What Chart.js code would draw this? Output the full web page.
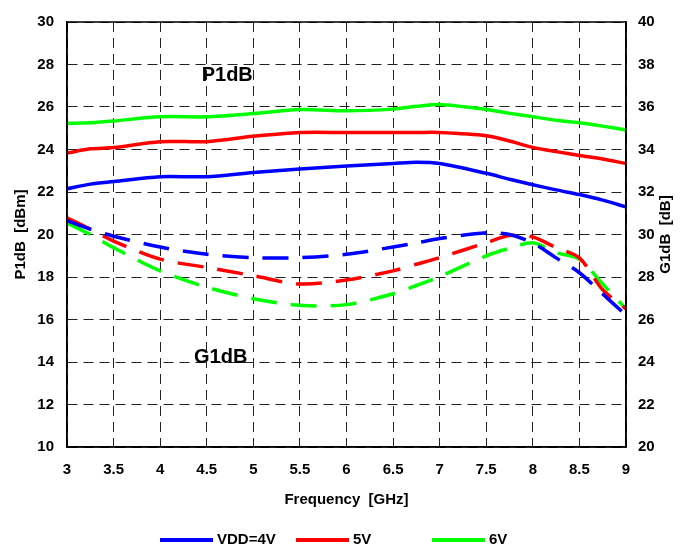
<!DOCTYPE html>
<html>
<head>
<meta charset="utf-8">
<script src="https://cdn.jsdelivr.net/npm/chart.js@4.4.1/dist/chart.umd.min.js"></script>
<style>
  body { margin: 0; background: #fff; }
  #myChart { display: block; }
</style>
</head>
<body>
<canvas id="myChart" width="681" height="547"></canvas>
<script>
// frequency points [GHz]
const freqs = [3, 3.25, 3.5, 4, 4.5, 5, 5.5, 6, 6.5, 6.75, 7, 7.5, 7.75, 8, 8.25, 8.5, 8.75, 9];

// P1dB [dBm] (left axis)
const p1dB_4V = [22.15, 22.37, 22.49, 22.72, 22.72, 22.92, 23.08, 23.22, 23.34, 23.4, 23.34, 22.88, 22.6, 22.34, 22.1, 21.88, 21.62, 21.3];
const p1dB_5V = [23.83, 24.03, 24.09, 24.37, 24.37, 24.62, 24.8, 24.8, 24.8, 24.8, 24.8, 24.65, 24.4, 24.1, 23.9, 23.72, 23.55, 23.34];
const p1dB_6V = [25.23, 25.26, 25.34, 25.54, 25.54, 25.69, 25.88, 25.82, 25.9, 26.03, 26.12, 25.88, 25.7, 25.54, 25.38, 25.26, 25.1, 24.92];

// G1dB [dB] (right axis)
const g1dB_4V = [30.65, 30.25, 29.92, 29.41, 29.07, 28.91, 28.91, 29.07, 29.41, 29.6, 29.81, 30.08, 30.0, 29.6, 28.9, 28.2, 27.2, 26.2];
const g1dB_5V = [30.78, 30.25, 29.69, 28.84, 28.45, 28.06, 27.67, 27.86, 28.29, 28.6, 28.91, 29.61, 29.95, 29.88, 29.38, 28.9, 27.4, 26.5];
const g1dB_6V = [30.54, 30.0, 29.38, 28.29, 27.52, 26.98, 26.67, 26.7, 27.21, 27.6, 28.02, 28.99, 29.35, 29.61, 29.15, 28.84, 27.67, 26.5];

const legendLabels = ['VDD=4V', '5V', '6V'];
const colors = ['#0000ff', '#ff0000', '#00ff00'];

const FONT = 'Liberation Sans, Arial, sans-serif';

function pts(vals) {
  return freqs.map((f, i) => ({x: f, y: vals[i]}));
}

function solid(vals, c) {
  return { data: pts(vals), borderColor: c, borderWidth: 3.5, pointRadius: 0, tension: 0.3, yAxisID: 'y', fill: false };
}
function dashed(vals, c) {
  return { data: pts(vals), borderColor: c, borderWidth: 3.5, pointRadius: 0, tension: 0.3, yAxisID: 'y2', fill: false, borderDash: [26, 14] };
}

// frame, annotations, right title, legend
const extras = {
  id: 'extras',
  afterDraw(chart) {
    const {ctx, chartArea: {left, top, right, bottom}, scales} = chart;
    ctx.save();
    ctx.strokeStyle = '#000';
    ctx.lineWidth = 1.5;
    ctx.strokeRect(left, top, right - left, bottom - top);

    ctx.fillStyle = '#000';
    ctx.font = 'bold 20px ' + FONT;
    ctx.textAlign = 'center';
    ctx.textBaseline = 'middle';
    ctx.fillText('P1dB', scales.x.getPixelForValue(4.72), scales.y.getPixelForValue(27.5));
    ctx.fillText('G1dB', scales.x.getPixelForValue(4.65), scales.y.getPixelForValue(14.2));

    // right axis title, reading bottom to top
    ctx.font = 'bold 15px ' + FONT;
    ctx.translate(666, (top + bottom) / 2);
    ctx.rotate(-Math.PI / 2);
    ctx.fillText('G1dB  [dB]', 0, 0);
    ctx.restore();

    // legend
    ctx.save();
    const lx = [160, 296, 432];
    const ly = 540;
    ctx.font = 'bold 15px ' + FONT;
    ctx.textBaseline = 'middle';
    ctx.lineWidth = 4;
    for (let i = 0; i < 3; i++) {
      ctx.strokeStyle = colors[i];
      ctx.beginPath();
      ctx.moveTo(lx[i], ly);
      ctx.lineTo(lx[i] + 53, ly);
      ctx.stroke();
      ctx.fillStyle = '#000';
      ctx.fillText(legendLabels[i], lx[i] + 57, ly);
    }
    ctx.restore();
  }
};

const ctx = document.getElementById('myChart');
new Chart(ctx, {
  type: 'line',
  data: {
    datasets: [
      solid(p1dB_4V, colors[0]), solid(p1dB_5V, colors[1]), solid(p1dB_6V, colors[2]),
      dashed(g1dB_4V, colors[0]), dashed(g1dB_5V, colors[1]), dashed(g1dB_6V, colors[2])
    ]
  },
  options: {
    responsive: false,
    animation: false,
    devicePixelRatio: 1,
    layout: { padding: { top: 3, bottom: 38, left: 0, right: 0 } },
    scales: {
      x: {
        type: 'linear',
        min: 3, max: 9,
        afterFit(scale) { scale.height = 62; },
        grid: { color: '#222', lineWidth: 1, drawTicks: false },
        border: { display: true, color: '#000', width: 1.5, dash: [10, 6] },
        ticks: { stepSize: 0.5, padding: 14, color: '#000', callback: v => String(v), font: { family: FONT, size: 15, weight: 'bold' } },
        title: { display: true, text: 'Frequency  [GHz]', color: '#000', padding: { top: 6, bottom: 0 }, font: { family: FONT, size: 15, weight: 'bold' } }
      },
      y: {
        position: 'left',
        min: 10, max: 30,
        afterFit(scale) { scale.width = 67; },
        grid: { color: '#222', lineWidth: 1, drawTicks: false },
        border: { display: true, color: '#000', width: 1.5, dash: [10, 6] },
        ticks: { stepSize: 2, padding: 13, color: '#000', font: { family: FONT, size: 15, weight: 'bold' } },
        title: { display: true, text: 'P1dB  [dBm]', color: '#000', padding: { top: 12, bottom: 0 }, font: { family: FONT, size: 15, weight: 'bold' } }
      },
      y2: {
        position: 'right',
        min: 20, max: 40,
        afterFit(scale) { scale.width = 55; },
        grid: { drawOnChartArea: false, drawTicks: false },
        border: { display: true, color: '#000', width: 1.5 },
        ticks: { stepSize: 2, padding: 12, color: '#000', font: { family: FONT, size: 15, weight: 'bold' } }
      }
    },
    plugins: {
      legend: { display: false },
      tooltip: { enabled: false }
    }
  },
  plugins: [extras]
});
</script>
</body>
</html>
